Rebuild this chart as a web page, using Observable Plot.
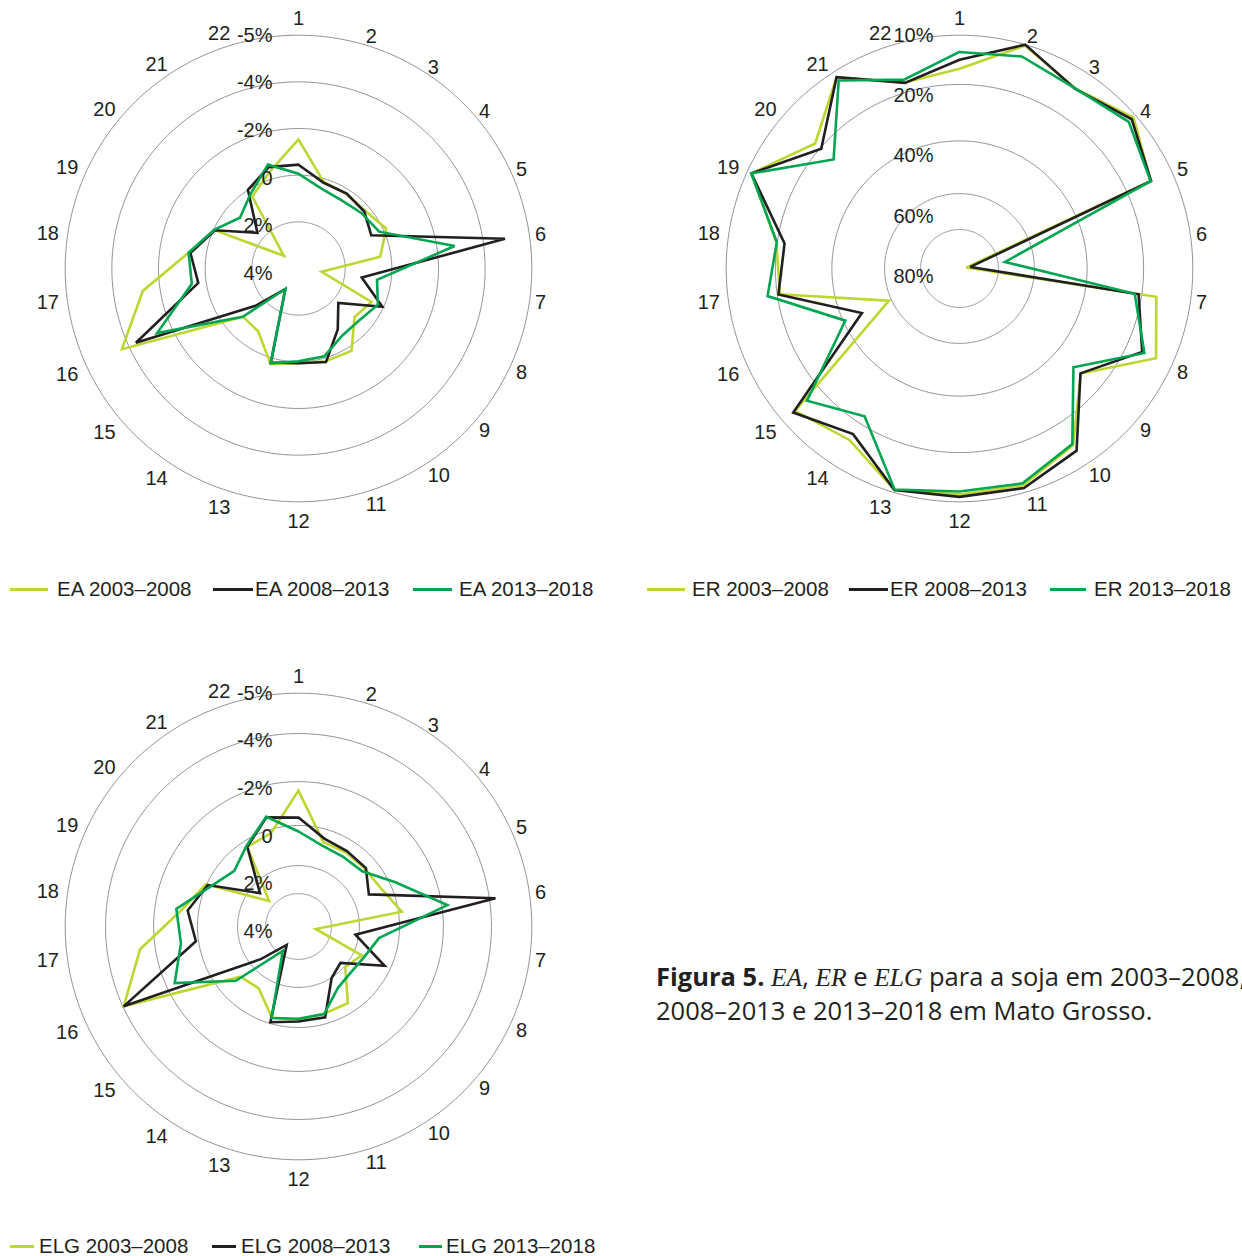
<!DOCTYPE html>
<html>
<head>
<meta charset="utf-8">
<script src="https://cdn.jsdelivr.net/npm/d3@7"></script>
<script src="https://cdn.jsdelivr.net/npm/@observablehq/plot@0.6"></script>
<style>
  html, body { margin: 0; padding: 0; background: #fff; width: 1242px; height: 1256px; overflow: hidden; }
  #root { position: relative; width: 1242px; height: 1256px; overflow: hidden; font-family: "Liberation Sans", Arial, sans-serif; color: #231f20; }
  .chart { position: absolute; width: 600px; height: 600px; }
  .chart svg { overflow: visible; max-width: none !important; width: 600px; height: 600px; }
  .leg { position: absolute; height: 0; }
  .leg .sw { position: absolute; height: 3px; top: -1.5px; }
  .leg .tx { position: absolute; top: 0; transform: translateY(-50%); font-size: 20.5px; white-space: nowrap; line-height: 1; }
  #caption { position: absolute; left: 656px; top: 960px; font-family: "Open Sans", sans-serif; font-size: 25.5px; line-height: 33px; white-space: nowrap; color: #231f20; }
  #caption b { font-weight: 700; }
  #caption i { font-family: "Liberation Serif", "DejaVu Serif", serif; font-style: italic; }
</style>
</head>
<body>
<div id="root">
  <div id="caption"><b>Figura 5.</b> <i>EA</i>, <i>ER</i> e <i>ELG</i> para a soja em 2003–2008,<br>2008–2013 e 2013–2018 em Mato Grosso.</div>
</div>
<script>
// ---------- data ----------
const categories = ["1","2","3","4","5","6","7","8","9","10","11","12","13","14","15","16","17","18","19","20","21","22"];

const seriesColors = ["#bed631", "#231f20", "#00a551"];

// EA (%)
const eaSeries = ["EA 2003–2008", "EA 2008–2013", "EA 2013–2018"];
const ea2003 = [-1.53, 0.14, 0.2, 0.22, -0.13, 0.46, 3.0, 0.56, 0.82, -0.2, -0.14, -0.06, -0.26, 0.8, 0.85, -4.16, -2.74, -0.76, 0.04, 3.17, 0.33, -0.34];
const ea2008 = [-0.45, 0.17, 0.18, 0.27, 0.57, -4.47, 1.26, 0.05, 1.74, 0.89, -0.18, -0.06, -0.2, 2.96, 1.56, -3.66, -0.34, -0.68, 0.06, 1.67, -0.01, -0.53];
const ea2013 = [-0.06, 0.44, 0.54, 0.4, 0.2, -2.76, 0.6, 0.26, 0.58, 0.56, 0.08, 0.02, -0.24, 2.96, 0.84, -2.66, -0.62, -0.76, 0.02, 0.68, 0.2, -0.64];
const eaTickLabels = ["-5%", "-4%", "-2%", "0", "2%", "4%"];
const eaRingValues = [2, 0, -2, -4, -5];

// ER (%)
const erSeries = ["ER 2003–2008", "ER 2008–2013", "ER 2013–2018"];
const er2003 = [16.8, 10.2, 13.9, 10.6, 14.7, 96.4, 17.0, 13.5, 28.4, 14.7, 11.5, 11.5, 10.5, 16.0, 13.2, 59.0, 20.9, 19.8, 10.9, 18.6, 11.2, 18.0];
const er2008 = [15.0, 10.0, 14.0, 11.1, 14.6, 94.4, 21.1, 16.6, 28.5, 13.4, 10.9, 11.0, 10.5, 17.4, 12.7, 47.7, 20.4, 22.6, 10.9, 20.4, 11.2, 18.1];
const er2013 = [13.4, 12.5, 13.9, 11.9, 14.7, 76.1, 22.5, 16.1, 31.8, 15.0, 11.9, 12.1, 10.6, 23.0, 16.4, 40.8, 18.0, 19.9, 10.9, 26.2, 12.0, 17.4];
const erTickLabels = ["10%", "20%", "40%", "60%", "80%"];
const erRingValues = [80, 60, 40, 20, 10];

// ELG (%)
const elgSeries = ["ELG 2003–2008", "ELG 2008–2013", "ELG 2013–2018"];
const elg2003 = [-1.59, 0.65, 0.65, 0.65, 0.5, -0.15, 4.94, 1.57, 1.95, 0.49, 0.5, 0.39, 0.31, 1.37, 1.21, -3.97, -2.63, -0.77, -0.03, 3.57, 0.32, 0.18];
const elg2008 = [-0.36, 0.47, 0.57, 0.59, 1.18, -4.15, 2.24, 0.32, 2.38, 1.98, 0.32, 0.3, 0.06, 4.67, 2.79, -3.97, -0.12, -0.5, 0.06, 2.71, 0.31, -0.58];
const elg2013 = [0.3, 0.83, 0.91, 0.83, -0.25, -2.23, 0.98, 1.42, 1.56, 1.4, 0.49, 0.44, 0.28, 4.23, 0.9, -1.6, -0.81, -1.02, 0.23, 0.8, 0.25, -0.61];
const elgTickLabels = ["-5%", "-4%", "-2%", "0", "2%", "4%"];
const elgRingValues = [4, 2, 0, -2, -4, -5];

// ---------- layout ----------
const SIZE = 600, HALF = 300, DEG = 0.04, R = 233.3, FS = 20, INK = "#231f20";
const lon = d3.scalePoint(categories, [180, 180 - 360 * 21 / 22]);
const lat = r => 90 - r * DEG;

// radial value scales (value -> px from centre)
const eaRadius = d3.scaleLinear().domain([4, 2, 0, -2, -4, -5]).range([0, 0.2, 0.4, 0.6, 0.8, 1].map(f => f * R));
const erRadius = d3.scaleLinear().domain([100, 80, 60, 40, 20, 10]).range([0, 0.167, 0.321, 0.547, 0.789, 1].map(f => f * R));
const elgRadius = d3.scaleLinear().domain([6, 4, 2, 0, -2, -4, -5]).range([0, 0.141, 0.261, 0.433, 0.621, 0.827, 1].map(f => f * R));

// category label anchor point (screen offset from centre) -> projected lon/lat
function labelAnchor(c) {
  const a = (180 - lon(c)) * Math.PI / 180;
  const s = Math.sin(a), co = Math.cos(a);
  let px, py;
  if (Math.abs(s) < 0.01) {
    px = 0; py = co > 0 ? -250 : 253;
  } else {
    const r0 = s > 0 ? 239 : 242;
    px = r0 * s; py = -r0 * co;
    if (co < -0.2) py += 4 + 3 * Math.abs(co);
    else if (co > 0.9) py -= 3;
  }
  const r = Math.hypot(px, py);
  const th = Math.atan2(px, -py) * 180 / Math.PI;
  return {lon: 180 - th, lat: lat(r)};
}
const side = c => { const s = Math.sin((180 - lon(c)) * Math.PI / 180); return Math.abs(s) < 0.01 ? "middle" : s > 0 ? "start" : "end"; };

function radar({radius, ringValues, tickLabels, tickEnd, series, values}) {
  const rows = [];
  series.forEach((s, j) => values[j].forEach((v, i) => rows.push({series: s, cat: categories[i], value: v})));
  const tickPos = d3.scaleLinear().domain([0, tickLabels.length - 1]).range([R, tickEnd]);
  const catText = anchor => Plot.text(categories.filter(c => side(c) === anchor), {
    x: d => labelAnchor(d).lon, y: d => labelAnchor(d).lat, text: d => d,
    textAnchor: anchor, fontSize: FS, fill: INK
  });
  return Plot.plot({
    width: SIZE, height: SIZE, margin: 0,
    style: {fontFamily: '"Liberation Sans", Arial, sans-serif', background: "transparent", overflow: "visible"},
    projection: {
      type: "azimuthal-equidistant", rotate: [0, -90], inset: 0,
      domain: d3.geoCircle().center([0, 90]).radius(HALF * DEG)()
    },
    color: {domain: series, range: seriesColors},
    marks: [
      Plot.geo(ringValues, {
        geometry: v => d3.geoCircle().center([0, 90]).radius(radius(v) * DEG).precision(1)(),
        stroke: "#929292", strokeWidth: 1, fill: "none"
      }),
      Plot.line(rows, {
        x: d => lon(d.cat), y: d => lat(radius(d.value)),
        z: "series", stroke: "series", strokeWidth: 2.6,
        curve: "linear-closed", strokeLinejoin: "miter", strokeMiterlimit: 3
      }),
      catText("start"), catText("end"), catText("middle"),
      Plot.text(tickLabels, {
        x: (d, i) => tickPos(i) >= 0 ? 180 : 0,
        y: (d, i) => lat(Math.abs(tickPos(i))),
        text: d => d, textAnchor: "end", dx: -26, fontSize: FS, fill: INK
      })
    ]
  });
}

function place(node, cx, cy) {
  const div = document.createElement("div");
  div.className = "chart";
  div.style.left = (cx - HALF) + "px";
  div.style.top = (cy - HALF) + "px";
  div.appendChild(node);
  document.getElementById("root").appendChild(div);
}

place(radar({radius: eaRadius, ringValues: eaRingValues, tickLabels: eaTickLabels, tickEnd: -5.2,
  series: eaSeries, values: [ea2003, ea2008, ea2013]}), 298, 268.3);
place(radar({radius: erRadius, ringValues: erRingValues, tickLabels: erTickLabels, tickEnd: -8,
  series: erSeries, values: [er2003, er2008, er2013]}), 959, 268.3);
place(radar({radius: elgRadius, ringValues: elgRingValues, tickLabels: elgTickLabels, tickEnd: -5.2,
  series: elgSeries, values: [elg2003, elg2008, elg2013]}), 298, 926.3);

// ---------- legends ----------
function legend(series, y, swatches) {
  const root = document.getElementById("root");
  series.forEach((s, j) => {
    const [x0, x1, tx] = swatches[j];
    const g = document.createElement("div");
    g.className = "leg";
    g.style.left = "0px"; g.style.top = y + "px";
    const sw = document.createElement("div");
    sw.className = "sw";
    sw.style.left = x0 + "px"; sw.style.width = (x1 - x0) + "px"; sw.style.background = seriesColors[j];
    const t = document.createElement("div");
    t.className = "tx"; t.style.left = tx + "px"; t.textContent = s;
    g.appendChild(sw); g.appendChild(t); root.appendChild(g);
  });
}
legend(eaSeries, 589, [[10, 48, 57], [213, 253, 255], [413, 452, 459]]);
legend(erSeries, 589, [[647, 685, 692], [849, 888, 890], [1050, 1086, 1094]]);
legend(elgSeries, 1246, [[10, 34, 39], [212, 236, 241], [419, 442, 446]]);
</script>
</body>
</html>
